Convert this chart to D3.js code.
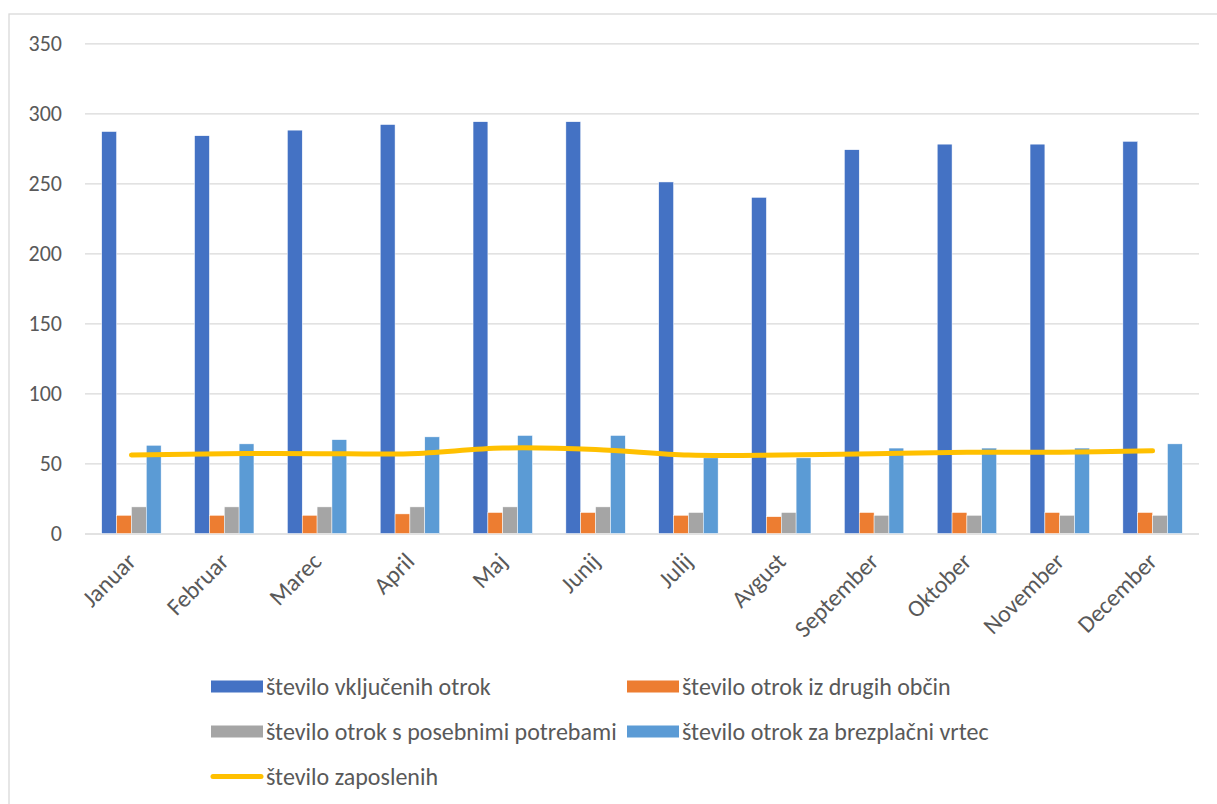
<!DOCTYPE html>
<html>
<head>
<meta charset="utf-8">
<script src="https://cdn.jsdelivr.net/npm/d3@7"></script>
<style>
  body { margin: 0; background: #fff; }
  text { font-family: Carlito, Calibri, "Liberation Sans", Arial, sans-serif; fill: #595959; }
</style>
</head>
<body>
<script>
// data
var months = ["Januar","Februar","Marec","April","Maj","Junij","Julij","Avgust","September","Oktober","November","December"];
var vkljuceni = [287,284,288,292,294,294,251,240,274,278,278,280];
var drugeObcine = [13,13,13,14,15,15,13,12,15,15,15,15];
var posebnePotrebe = [19,19,19,19,19,19,15,15,13,13,13,13];
var brezplacni = [63,64,67,69,70,70,54,54,61,61,61,64];
var zaposleni = [56,57,57,57,61,60,56,56,57,58,58,59];
var yTicks = [0,50,100,150,200,250,300,350];

var barSeries = [
  {label:"število vključenih otrok", values:vkljuceni, color:"#4472C4"},
  {label:"število otrok iz drugih občin", values:drugeObcine, color:"#ED7D31"},
  {label:"število otrok s posebnimi potrebami", values:posebnePotrebe, color:"#A5A5A5"},
  {label:"število otrok za brezplačni vrtec", values:brezplacni, color:"#5B9BD5"}
];
var lineLabel = "število zaposlenih";
var lineColor = "#FFC000";

var W = 1217, H = 804;
var plotLeft = 85, plotRight = 1199, plotTop = 43.3, plotBottom = 533.5;

var svg = d3.select("body").append("svg").attr("width",W).attr("height",H);

// chart frame
svg.append("rect").attr("x",9).attr("y",14).attr("width",1230).attr("height",820)
  .attr("fill","none").attr("stroke","#D9D9D9").attr("stroke-width",1.3);

var x = d3.scaleBand().domain(months).range([plotLeft,plotRight]).paddingInner(0.36).paddingOuter(0.18);
var xSub = d3.scaleBand().domain(d3.range(barSeries.length)).range([0,x.bandwidth()]);
var y = d3.scaleLinear().domain([0,350]).range([plotBottom,plotTop]);

// gridlines + y labels
var yAxis = svg.append("g").attr("transform","translate("+plotLeft+",0)")
  .call(d3.axisLeft(y).tickValues(yTicks).tickSize(-(plotRight-plotLeft)).tickPadding(23));
yAxis.select(".domain").remove();
yAxis.selectAll(".tick line").attr("stroke","#D9D9D9").attr("stroke-width",1.3);
yAxis.selectAll(".tick text").style("font-size","22px").style("font-family",null).attr("fill","#595959");

// bars
var groups = svg.append("g").selectAll("g").data(barSeries).join("g")
  .attr("fill",function(d){return d.color;});
groups.each(function(s,si){
  d3.select(this).selectAll("rect").data(s.values).join("rect")
    .attr("x",function(v,i){return x(months[i])+xSub(si);})
    .attr("y",function(v){return y(v);})
    .attr("width",xSub.bandwidth())
    .attr("height",function(v){return y(0)-y(v);})
    .attr("stroke","#fff").attr("stroke-width",0.5);
});

// line
var line = d3.line()
  .x(function(v,i){return x(months[i])+x.bandwidth()/2;})
  .y(function(v){return y(v);})
  .curve(d3.curveCatmullRom.alpha(0.5));
svg.append("path").datum(zaposleni).attr("d",line)
  .attr("fill","none").attr("stroke",lineColor).attr("stroke-width",5)
  .attr("stroke-linecap","round").attr("stroke-linejoin","round");

// x labels
svg.append("g").selectAll("text").data(months).join("text")
  .attr("transform",function(d){return "translate("+(x(d)+x.bandwidth()/2)+",557) rotate(-45)";})
  .attr("text-anchor","end").attr("dy","0.35em")
  .style("font-size","24px")
  .text(function(d){return d;});

// legend
var legendItems = barSeries.map(function(s){return {label:s.label,color:s.color,type:"bar"};});
legendItems.push({label:lineLabel,color:lineColor,type:"line"});
var legendCols = [211,627], legendRows = [686.5,731.5,776.5];
var leg = svg.append("g").selectAll("g").data(legendItems).join("g")
  .attr("transform",function(d,i){return "translate("+legendCols[i%2]+","+legendRows[Math.floor(i/2)]+")";});
leg.each(function(d){
  var g = d3.select(this);
  if(d.type==="bar"){
    g.append("rect").attr("x",0).attr("y",-6).attr("width",52).attr("height",12).attr("fill",d.color);
  } else {
    g.append("line").attr("x1",2).attr("x2",50).attr("y1",0).attr("y2",0)
      .attr("stroke",d.color).attr("stroke-width",5).attr("stroke-linecap","round");
  }
  g.append("text").attr("x",55).attr("dy","0.35em").style("font-size","24px").text(d.label);
});
</script>
</body>
</html>
